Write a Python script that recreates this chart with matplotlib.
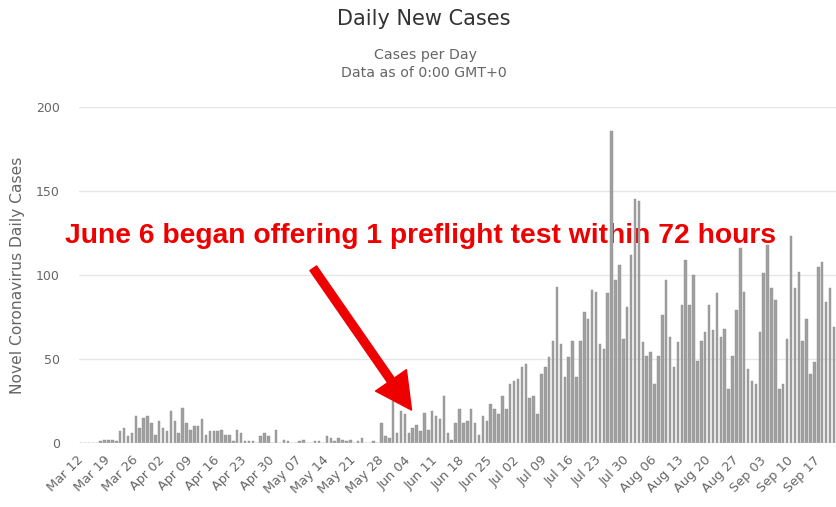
import matplotlib
matplotlib.use("Agg")

import pandas as pd
import matplotlib.pyplot as plt

# daily new cases, Mar 12 onwards
cases_mar_apr = [0, 0, 0, 0, 0, 1, 2, 2, 2, 1, 7, 9, 4, 6, 16, 9, 15, 16, 12, 5,
                 13, 9, 7, 19, 13, 6, 21, 12, 8, 10, 10, 14, 5]
cases_apr_may = [7, 7, 7, 8, 5, 5, 1, 8, 6, 1, 1, 1, 0, 4, 6, 4, 0, 8, 0, 2,
                 1, 0, 0, 1, 2, 0, 0, 1, 1, 0, 4]
cases_may_jun = [3, 1, 3, 2, 1, 2, 0, 1, 3, 0, 0, 1, 0, 12, 4, 3, 25, 6, 19, 17,
                 6, 9, 11, 7, 18, 8, 19, 16, 14, 28]
cases_jun_jul = [6, 2, 12, 20, 12, 13, 20, 12, 5, 16, 13, 23, 20, 17, 28, 20, 35, 37,
                 38, 45, 47, 27, 28, 17, 41, 45, 51, 61, 93, 59, 39, 51]
cases_jul_aug = [61, 39, 61, 78, 74, 91, 90, 59, 56, 89, 186, 97, 106, 62, 81, 112,
                 145, 144, 60, 52, 54, 35, 52, 76, 97, 63, 45, 60, 82, 109, 82, 100, 49]
cases_aug_sep = [61, 66, 82, 67, 89, 63, 68, 32, 52, 79, 116, 90, 44, 37, 35, 66,
                 101, 118, 92, 85, 32, 35, 62, 123, 92, 102, 61, 74, 41, 48, 105,
                 108, 84, 92, 69, 44]

cases = (cases_mar_apr + cases_apr_may + cases_may_jun + cases_jun_jul
         + cases_jul_aug + cases_aug_sep)
dates = pd.date_range("2020-03-12", periods=len(cases), freq="D")
tick_idx = list(range(0, len(cases), 7))
tick_labels = [dates[i].strftime("%b %d") for i in tick_idx]

annotation = "June 6 began offering 1 preflight test within 72 hours"

W, H = 837, 507
fig = plt.figure(figsize=(W / 100, H / 100), dpi=100)
ax = fig.add_axes([79.25 / W, (H - 443) / H, (W - 79.25) / W, 336 / H])

x = list(range(len(cases)))
ax.bar(x, cases, width=0.62, color="#a0a0a0", edgecolor="#909090", linewidth=0.3, zorder=2)

ax.set_xlim(-0.5, (W - 81.2) / 3.9)
ax.set_ylim(0, 200)
ax.set_yticks([0, 50, 100, 150, 200])
ax.grid(axis="y", color="#e6e6e6", linewidth=1, zorder=0)
ax.axhline(0, color="#ccd6eb", linewidth=1, zorder=3)
for s in ax.spines.values():
    s.set_visible(False)

ax.set_xticks(tick_idx)
ax.set_xticklabels(tick_labels, rotation=45, ha="right", va="center",
                   rotation_mode="anchor", fontsize=9.3, color="#666666")
ax.tick_params(axis="x", length=0, pad=11)
ax.tick_params(axis="y", length=0, pad=14, labelsize=9, labelcolor="#666666")

fig.text(424 / W, 1 - 19 / H, "Daily New Cases", ha="center", va="center",
         fontsize=15, color="#333333")
fig.text(426 / W, 1 - 55 / H, "Cases per Day", ha="center", va="center",
         fontsize=10.2, color="#666666")
fig.text(424 / W, 1 - 73 / H, "Data as of 0:00 GMT+0", ha="center", va="center",
         fontsize=10.2, color="#666666")
fig.text(18 / W, 1 - 275 / H, "Novel Coronavirus Daily Cases", rotation=90,
         ha="center", va="center", fontsize=11.2, color="#666666")

# annotation text (behind the bars, as in the original) and arrow
ax.text(86.9, 119, annotation, ha="center", va="baseline", fontsize=20.3,
        fontweight="bold", family="Liberation Sans", color="#ee0000",
        zorder=1, clip_on=False)
ax.annotate("", xy=(84.7, 19.6), xytext=(59.5, 104),
            arrowprops=dict(color="#ee0000", width=5.8, headwidth=27,
                            headlength=26, shrink=0),
            zorder=5)

fig.savefig("out.png", dpi=100)
